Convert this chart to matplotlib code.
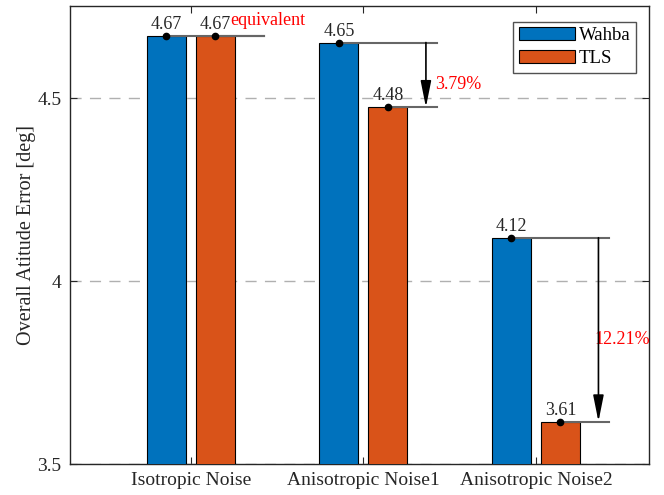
import matplotlib
matplotlib.use('Agg')
from matplotlib import pyplot
import numpy

matplotlib.rcParams['font.family'] = ['Liberation Serif', 'DejaVu Serif']
matplotlib.rcParams['font.size'] = 14

categories = ['Isotropic Noise', 'Anisotropic Noise1', 'Anisotropic Noise2']
wahba = [4.672, 4.653, 4.119]
tls = [4.672, 4.476, 3.616]
wahba_labels = ['4.67', '4.65', '4.12']
tls_labels = ['4.67', '4.48', '3.61']
gap_labels = ['equivalent', '3.79%', '12.21%']
yticks = [3.5, 4, 4.5]

blue = '#0072BD'
orange = '#D95319'
grey = '#262626'

fig = pyplot.figure(figsize=[6.64, 4.95], dpi=100)
ax = fig.add_axes([70/664, 31/495, 579/664, 458/495])

x = numpy.arange(1, len(categories) + 1)
off = 0.142
width = 0.226

ax.bar(x - off, wahba, width, color=blue, edgecolor='k', linewidth=0.8,
       label='Wahba', zorder=3)
ax.bar(x + off, tls, width, color=orange, edgecolor='k', linewidth=0.8,
       label='TLS', zorder=3)

line_end = x + 0.426
arrow_x = x + 0.362
for i in range(len(categories)):
    ax.plot([x[i] - off, line_end[i]], [wahba[i], wahba[i]], color='#666666',
            lw=1.5, zorder=4)
    ax.plot([x[i] + off, line_end[i]], [tls[i], tls[i]], color='#666666',
            lw=1.5, zorder=4)
    ax.plot([x[i] - off, x[i] + off], [wahba[i], tls[i]], 'o', color='k',
            markersize=4.5, zorder=5)
    ax.annotate(wahba_labels[i], (x[i] - off, wahba[i]), xytext=(0, 2),
                textcoords='offset points', ha='center', va='bottom',
                fontsize=13, color=grey)
    ax.annotate(tls_labels[i], (x[i] + off, tls[i]), xytext=(0, 2),
                textcoords='offset points', ha='center', va='bottom',
                fontsize=13, color=grey)
    if i > 0:
        # arrow from the Wahba level down to the TLS level
        ax.annotate('', xy=(arrow_x[i], tls[i]), xytext=(arrow_x[i], wahba[i]),
                    arrowprops=dict(arrowstyle='-|>,head_length=16,head_width=3.2',
                                    mutation_scale=1, color='k', lw=1.2,
                                    shrinkA=0, shrinkB=0), zorder=6)

ax.text(1.226, 4.70, gap_labels[0], color='red', fontsize=13, va='baseline')
ax.text(2.417, 4.525, gap_labels[1], color='red', fontsize=13, va='baseline')
ax.text(3.336, 3.827, gap_labels[2], color='red', fontsize=13, va='baseline')

ax.set_xlim(0.299, 3.655)
ax.set_ylim(3.5, 4.753)
ax.set_xticks(x)
ax.set_xticklabels(categories)
ax.set_yticks(yticks)
ax.set_yticklabels(['3.5', '4', '4.5'])
ax.set_ylabel('Overall Atitude Error [deg]', color=grey, fontsize=14.5,
              labelpad=1)
ax.tick_params(direction='in', top=True, right=True, length=5, colors=grey,
               labelsize=14, labelcolor=grey, pad=6)
ax.yaxis.grid(True, linestyle=(0, (8, 6)), color='#b0b0b0', lw=1, zorder=0)
ax.set_axisbelow(True)
for s in ax.spines.values():
    s.set_color(grey)
    s.set_linewidth(1)

leg = ax.legend(loc='upper right', bbox_to_anchor=(0.978, 0.966),
                fancybox=False, edgecolor=grey, fontsize=13.5,
                handlelength=3, handleheight=0.7, borderpad=0.3,
                labelspacing=0.3, handletextpad=0.2, borderaxespad=0)
leg.get_frame().set_linewidth(1)

fig.savefig('out.png', dpi=100)
